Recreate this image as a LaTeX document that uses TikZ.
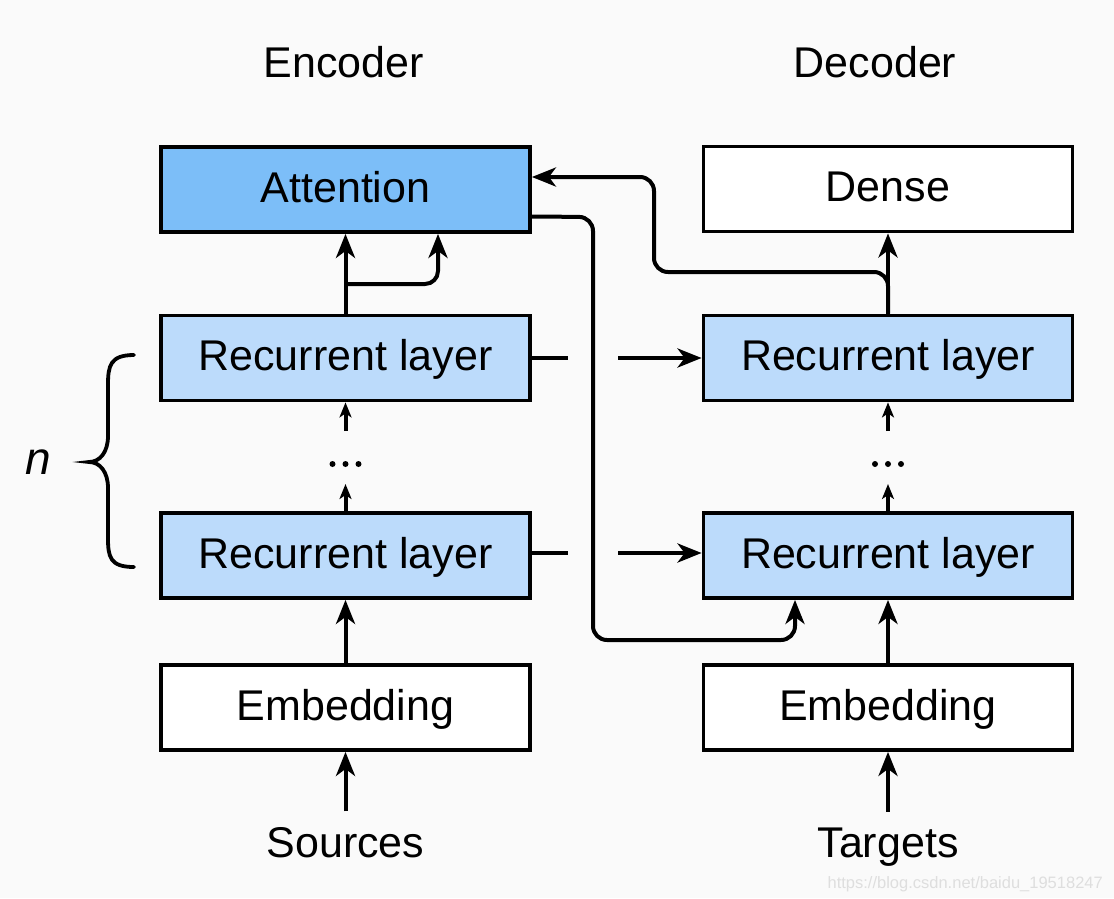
\documentclass[tikz,border=0pt]{standalone}
\usepackage{fontspec}
\setmainfont{Liberation Sans}
\usetikzlibrary{arrows.meta,calc}
\definecolor{bg}{RGB}{250,250,250}
\definecolor{attblue}{RGB}{124,190,248}
\definecolor{recblue}{RGB}{188,219,251}
\definecolor{wm}{RGB}{222,222,222}
\tikzset{
  blk/.style={draw=black, line width=3.8pt, minimum width=369pt, minimum height=85pt,
    inner sep=0pt, font=\fontsize{43}{50}\selectfont, text height=32pt, text depth=7pt},
  title/.style={font=\fontsize{43}{50}\selectfont, anchor=base},
  arr/.style={line width=4pt, -{Stealth[length=24pt,width=19pt,inset=7pt]}},
  sarr/.style={line width=4pt, -{Stealth[length=15pt,width=12pt,inset=4pt]}},
  ln/.style={line width=4pt},
}
\begin{document}
\begin{tikzpicture}[x=1pt,y=-1pt]
\fill[bg] (0,0) rectangle (1114,898);
\useasboundingbox (0,0) rectangle (1114,898);

% encoder column
\node[blk, fill=attblue] (att) at (345.5,189.5) {Attention};
\node[blk, fill=recblue] (rece2) at (345.5,358) {Recurrent layer};
\node[blk, fill=recblue] (rece1) at (345.5,555.5) {Recurrent layer};
\node[blk, fill=white] (embe) at (345.5,707.5) {Embedding};
\node[title] (enct) at (343.5,77) {Encoder};
\node[title] (src) at (345.5,857) {Sources};

% decoder column
\node[blk, fill=white] (dense) at (888,189) {Dense};
\node[blk, fill=recblue] (recd2) at (888,358) {Recurrent layer};
\node[blk, fill=recblue] (recd1) at (888,555.5) {Recurrent layer};
\node[blk, fill=white] (embd) at (888,707.5) {Embedding};
\node[title] (dect) at (875,77) {Decoder};
\node[title] (tgt) at (888,857) {Targets};

% inputs
\draw[arr] ([yshift=12pt]src.north) -- (embe.south);
\draw[arr] ([yshift=12pt]tgt.north) -- (embd.south);
\draw[arr] (embe.north) -- (rece1.south);
\draw[arr] (embd.north) -- (recd1.south);

% stacked layers with dots
\coordinate (e1top) at (345.5,484);
\coordinate (e2bot) at (345.5,431);
\coordinate (d1top) at (888,484);
\coordinate (d2bot) at (888,431);
\draw[sarr] (rece1.north) -- (e1top);
\draw[sarr] (e2bot) -- (rece2.south);
\draw[sarr] (recd1.north) -- (d1top);
\draw[sarr] (d2bot) -- (recd2.south);
\foreach \dx in {-13,0,13}{
  \fill ($(345.5,464)+(\dx,0)$) circle (3);
  \fill ($(888,464)+(\dx,0)$) circle (3);
}

% encoder -> attention
\draw[arr] (rece2.north) -- (att.south);
\coordinate (br) at (345.5,284);
\draw[arr, rounded corners=13pt] (br) -- (438,284) -- ([xshift=92.5pt]att.south);

% decoder -> dense, and to attention
\draw[arr] (recd2.north) -- (dense.south);
\draw[arr, rounded corners=14pt] (recd2.north) -- (888,272) -- (654,272) -- (654,177) -- ([yshift=12.5pt]att.east);

% attention -> decoder bottom layer
\draw[arr, rounded corners=14pt] ([yshift=-27pt]att.east) -- (593,217) -- (593,640) -- (795,640) -- ([xshift=-93pt]recd1.south);

% encoder states -> decoder (with gap)
\coordinate (g2a) at (568,358);
\coordinate (g2b) at (618,358);
\coordinate (g1a) at (568,553);
\coordinate (g1b) at (618,553);
\draw[ln] (rece2.east) -- (g2a);
\draw[arr] (g2b) -- (recd2.west);
\draw[ln] ([yshift=2.5pt]rece1.east) -- (g1a);
\draw[arr] (g1b) -- ([yshift=2.5pt]recd1.west);

% brace
\draw[line width=3.8pt, line cap=round] (134,355) .. controls (110,355) and (108,366) .. (108,385)
  -- (108,436) .. controls (108,452) and (100,462) .. (89,462)
  .. controls (100,462) and (108,472) .. (108,488)
  -- (108,538) .. controls (108,557) and (110,567) .. (134,567);
\node[font=\fontsize{46}{52}\selectfont\itshape] (n) at (38,462) {n};

% watermark
\node[anchor=base east, text=wm, font=\fontsize{16.5}{20}\selectfont, inner sep=0pt] (wmk) at (1103,888) {https://blog.csdn.net/baidu\_19518247};
\end{tikzpicture}
\end{document}
